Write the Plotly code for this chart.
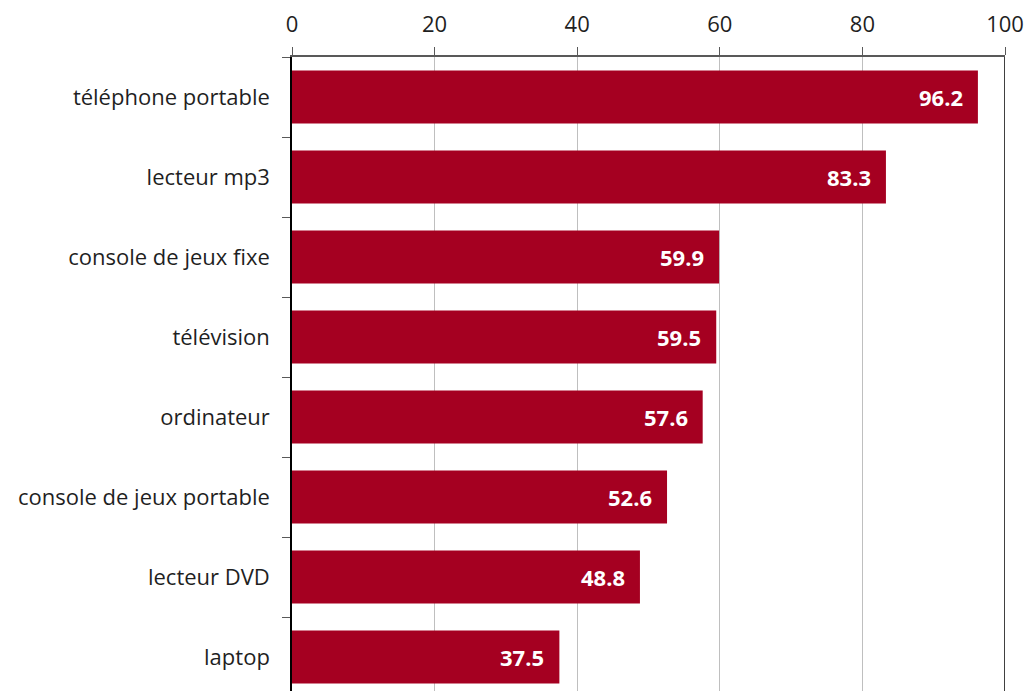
import plotly.graph_objects as go

categories = ["téléphone portable", "lecteur mp3", "console de jeux fixe", "télévision",
              "ordinateur", "console de jeux portable", "lecteur DVD", "laptop"]
values = [96.2, 83.3, 59.9, 59.5, 57.6, 52.6, 48.8, 37.5]
x_ticks = [0, 20, 40, 60, 80, 100]

BAR = "#A50021"
FONT = "Open Sans"
TEXT = "#1f1f1f"

fig = go.Figure(go.Bar(
    x=values,
    y=categories,
    orientation="h",
    marker=dict(color=BAR, line=dict(width=0)),
    width=0.66,
    hoverinfo="x+y",
))

# value labels, right-aligned just inside the end of each bar
for cat, v in zip(categories, values):
    fig.add_annotation(
        x=v, y=cat, xref="x", yref="y",
        text=f"{v:.1f}", showarrow=False,
        xanchor="right", yanchor="middle", xshift=-13,
        font=dict(family=FONT, size=22, color="white", weight="bold"),
    )

fig.update_layout(
    width=1028, height=691,
    margin=dict(l=292, r=23, t=57, b=0, pad=0),
    paper_bgcolor="white", plot_bgcolor="white",
    showlegend=False,
    font=dict(family=FONT, size=22, color=TEXT),
    xaxis=dict(
        side="top", range=[0, 100], tickvals=x_ticks,
        showgrid=True, gridcolor="#BFBFBF", gridwidth=1,
        showline=True, linecolor="#595959", linewidth=1.5,
        ticks="outside", ticklen=8, tickcolor="#595959",
        tickfont=dict(family=FONT, size=22, color=TEXT),
        ticklabelstandoff=6,
        zeroline=False, fixedrange=True,
    ),
    yaxis=dict(
        type="category", categoryorder="array", categoryarray=categories,
        range=[7.425, -0.5],
        showline=True, linecolor="#000000", linewidth=1.5,
        ticks="outside", ticklen=8, tickcolor="#595959", tickson="boundaries",
        showgrid=False, zeroline=False,
        tickfont=dict(family=FONT, size=22, color=TEXT),
        ticklabelstandoff=16,
    ),
)

# right-hand border of the plot area at x = 100
fig.add_shape(type="line", xref="x", yref="paper", x0=100, x1=100, y0=0, y1=1,
              line=dict(color="#000000", width=1.5))

fig.write_html("out.html")
